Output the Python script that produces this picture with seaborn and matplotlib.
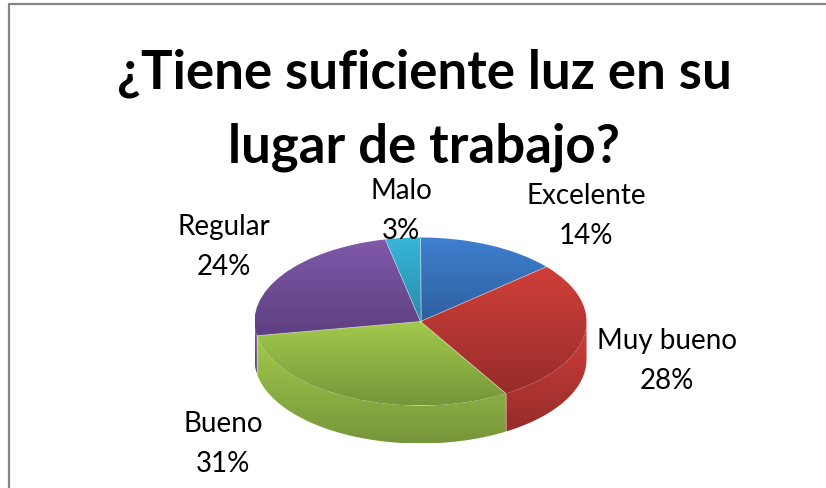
import matplotlib
matplotlib.use("Agg")
import matplotlib.pyplot as plt
import numpy as np
import seaborn as sns
from matplotlib.colors import LinearSegmentedColormap
from matplotlib.lines import Line2D
from matplotlib.patches import Polygon

# Data (slice sizes estimated from the angles, labels show them rounded)
categories = ["Excelente", "Muy bueno", "Bueno", "Regular", "Malo"]
percentages = [13.7, 27.7, 30.9, 24.3, 3.4]
title_text = "¿Tiene suficiente luz en su\nlugar de trabajo?"

# Light and dark end of each slice gradient
light_colors = ["#3f80d0", "#d03f3a", "#a2ca4c", "#8059aa", "#36b6d9"]
dark_colors = ["#2e5f9e", "#962c29", "#76963a", "#5d3f80", "#2a8cab"]

W, H = 826, 489
CX, CY, RX, RY, DEPTH = 420.5, 322.5, 166, 84, 38

sns.set_theme(style="white")
plt.rcParams["font.family"] = ["Lato", "DejaVu Sans"]

fig = plt.figure(figsize=(W / 100, H / 100), dpi=100, facecolor="white")
ax = fig.add_axes([0, 0, 1, 1])


def fill_gradient(patch, light, dark, z):
    # vertical gradient clipped to the patch
    cmap = LinearSegmentedColormap.from_list("g", [light, dark])
    box = patch.get_path().transformed(patch.get_patch_transform()).get_extents()
    img = ax.imshow(np.linspace(0, 1, 200).reshape(-1, 1), cmap=cmap, aspect="auto",
                    extent=[box.x0, box.x1, box.y0, box.y1], origin="upper", zorder=z)
    img.set_clip_path(patch)


wedges, _ = ax.pie(percentages, startangle=90, counterclock=False, radius=1, center=(0, 0),
                   wedgeprops={"facecolor": "none", "edgecolor": "none", "zorder": 4})
ax.set_aspect("auto")
depth = DEPTH / RY
seam = (1, 1, 1, 0.45)

for w, light, dark in zip(wedges, light_colors, dark_colors):
    # side wall: the part of the slice's rim on the front half
    lo = max(w.theta1, -180)
    hi = min(w.theta2, 0)
    if hi > lo:
        t = np.radians(np.linspace(lo, hi, 120))
        top = np.column_stack([np.cos(t), np.sin(t)])
        bottom = top[::-1] - [0, depth]
        wall = Polygon(np.vstack([top, bottom]), closed=True, facecolor="none", edgecolor="none", zorder=2)
        ax.add_patch(wall)
        fill_gradient(wall, light, dark, 1)
    fill_gradient(w, light, dark, 3)

    # thin light seam along the slice's start edge
    a = np.radians(w.theta1)
    ax.plot([0, np.cos(a)], [0, np.sin(a)], color=seam, lw=0.6, zorder=5)
    if -180 < w.theta1 < 0:
        ax.plot([np.cos(a), np.cos(a)], [np.sin(a), np.sin(a) - depth], color=seam, lw=0.6, zorder=5)

ax.set_xlim(-CX / RX, (W - CX) / RX)
ax.set_ylim((CY - H) / RY, CY / RY)
ax.axis("off")

# Outer chart frame, only left and top fall inside the picture
frame_color = "#868686"
fig.add_artist(Line2D([8.5 / W, 8.5 / W], [0, 1 - 5 / H], color=frame_color, lw=1.6))
fig.add_artist(Line2D([8.5 / W, 1], [1 - 5 / H, 1 - 5 / H], color=frame_color, lw=1.6))

fig.text(424 / W, 1 - 110 / H, title_text, ha="center", va="center", fontsize=38, fontweight="bold",
         color="black", linespacing=1.62)

label_x = [586, 667, 223, 224, 401]
label_y = [216, 361, 444, 247, 211]
for name, pct, x, y in zip(categories, percentages, label_x, label_y):
    fig.text(x / W, 1 - y / H, f"{name}\n{round(pct)}%", ha="center", va="center", fontsize=20,
             color="black", linespacing=1.68, zorder=10)

fig.savefig("out.png", dpi=100)
